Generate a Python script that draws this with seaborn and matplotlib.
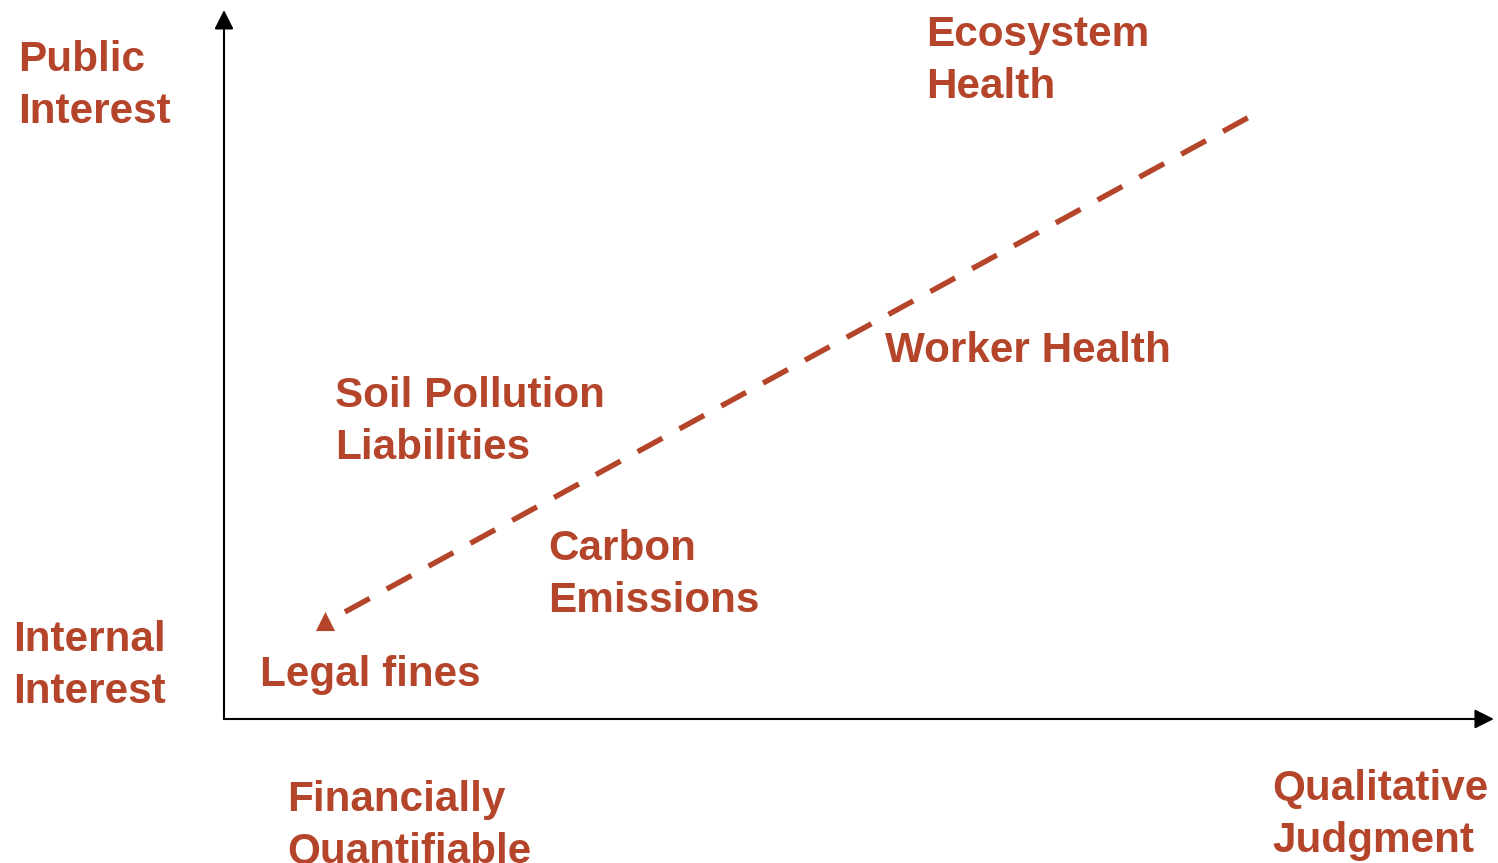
import matplotlib
matplotlib.use("Agg")
import matplotlib.pyplot as plt
import seaborn as sns
import pandas as pd

# chart content (positions in a 0-100 concept space: x = quantifiable -> qualitative, y = internal -> public)
# y is the baseline of the first text line
item_labels = ["Ecosystem\nHealth", "Worker Health", "Soil Pollution\nLiabilities",
               "Carbon\nEmissions", "Legal fines"]
item_x = [55.4, 52.1, 8.75, 25.55, 2.84]
item_y = [94.9, 50.4, 44.0, 22.4, 4.65]

axis_labels = ["Public\nInterest", "Internal\nInterest", "Financially\nQuantifiable", "Qualitative\nJudgment"]
axis_label_x = [-16.25, -16.6, 4.97, 82.7]
axis_label_y = [91.4, 9.6, -13.0, -11.4]

trend_x = [9.54, 81.15]
trend_y = [15.1, 85.2]
trend_head_x = [7.97]
trend_head_y = [13.8]

RED = "#B4452A"

sns.set_theme(style="white")
plt.rcParams["font.family"] = ["Liberation Sans", "DejaVu Sans"]

fig = plt.figure(figsize=(14.98, 8.63), dpi=100)
ax = fig.add_axes([224 / 1498, 144 / 863, 1268 / 1498, 709 / 863])
ax.set_xlim(0, 100)
ax.set_ylim(0, 100)
ax.set_axis_off()

# axes drawn as arrows
arrow_kw = dict(arrowstyle="-|>,head_length=0.4,head_width=0.2", mutation_scale=29,
                lw=1.5, color="black", shrinkA=0, shrinkB=0)
ax.annotate("", xy=(0, 1), xytext=(0, 0), xycoords="axes fraction", arrowprops=arrow_kw)
ax.annotate("", xy=(1.0015, 0), xytext=(0, 0), xycoords="axes fraction", arrowprops=arrow_kw)

# dashed trend line with a triangle at its low end
trend = pd.DataFrame({"x": trend_x, "y": trend_y})
sns.lineplot(data=trend, x="x", y="y", ax=ax, color=RED, lw=3.9,
             linestyle=(0, (5.2, 3.6)), dash_capstyle="butt", sort=False)
sns.scatterplot(x=trend_head_x, y=trend_head_y, ax=ax, marker="^", s=190,
                color=RED, edgecolor=RED, linewidth=0)

LINE_STEP = 37.6  # points between baselines
text_kw = dict(color=RED, fontsize=30.4, fontweight="bold", ha="left", va="baseline",
               linespacing=1.39, annotation_clip=False, textcoords="offset points")
for lab, x, y in zip(item_labels + axis_labels, item_x + axis_label_x, item_y + axis_label_y):
    n = lab.count("\n")
    ax.annotate(lab, (x, y), xytext=(0, -n * LINE_STEP), **text_kw)

fig.savefig("out.png", dpi=100)
